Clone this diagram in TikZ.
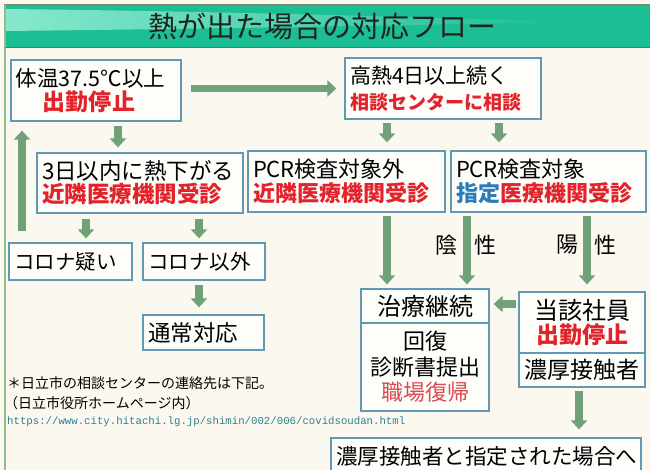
\documentclass[tikz,border=0pt]{standalone}
\usepackage{fontspec}
\setmainfont{Noto Sans CJK JP}
\newfontfamily\urlfont{Liberation Mono}
\usetikzlibrary{arrows.meta}
\definecolor{bg}{HTML}{FAF8EF}
\definecolor{boxfill}{HTML}{FDFDF9}
\definecolor{boxline}{HTML}{6398B2}
\definecolor{arrowgreen}{HTML}{71A178}
\definecolor{myred}{HTML}{E2232B}
\definecolor{myredlight}{HTML}{DA4A52}
\definecolor{myblue}{HTML}{2B7BB9}
\definecolor{urlcol}{HTML}{2F7F93}
\definecolor{titlebar}{HTML}{1CBE96}
\definecolor{titlelight}{HTML}{86E8CC}
\definecolor{titletop}{HTML}{7E8C6E}
\definecolor{titletext}{HTML}{1C2620}
\definecolor{frameline}{HTML}{8CBF8C}
\newcommand\fsz[2]{\fontsize{#1}{#2}\selectfont}
\tikzset{
  box/.style={draw=boxline, line width=1.3pt, fill=boxfill, inner xsep=5pt, inner ysep=0pt, anchor=center},
  blk/.style={draw=arrowgreen, line width=7.5pt, -{Triangle[width=16pt,length=9pt]}},
  lbl/.style={font=\fsz{22}{24}, text=black, inner sep=0pt},
  note/.style={anchor=west, inner sep=0pt, font=\fsz{14}{16}}
}
\begin{document}
\begin{tikzpicture}[x=1pt,y=-1pt]
\useasboundingbox (0,0) rectangle (650,470);
\clip (0,0) rectangle (650,470);
% background
\fill[bg] (0,0) rectangle (650,470);
% title bar
\fill[titlebar] (5,5) rectangle (650,47);
\shade[left color=titlelight, right color=titlebar]
  (5,9) .. controls (200,11) and (420,17) .. (572,22)
  .. controls (420,25) and (200,29) .. (5,31) -- cycle;
\draw[titletop, line width=1.2pt] (4,5) -- (650,5);
\draw[frameline, line width=1.4pt] (5,5) -- (5,470);
\draw[titlebar!80!black, line width=0.6pt] (5,47) -- (650,47);
\node[font=\fsz{29}{30}, text=titletext, inner sep=0pt] (title) at (322,26) {熱が出た場合の対応フロー};

% boxes
\node[box, minimum width=170pt, minimum height=61pt, text width=160pt, align=left, font=\fsz{21.5}{24}] (A) at (96,90.5)
  {体温37.5℃以上\\\hspace*{27pt}{\fsz{23}{24}\color{myred}\bfseries 出勤停止}};
\node[box, minimum width=196pt, minimum height=61pt, text width=186pt, align=left, font=\fsz{21}{26}] (B) at (443,88.5)
  {高熱4日以上続く\\{\fsz{19}{26}\color{myred}\bfseries 相談センターに相談}};
\node[box, minimum width=206pt, minimum height=60pt, text width=196pt, align=left, font=\fsz{22.5}{23}] (C) at (140,183)
  {3日以内に熱下がる\\{\color{myred}\bfseries 近隣医療機関受診}};
\node[box, minimum width=197pt, minimum height=61pt, text width=187pt, align=left, font=\fsz{22}{24}] (D) at (346.5,181.5)
  {PCR検査対象外\\{\color{myred}\bfseries 近隣医療機関受診}};
\node[box, minimum width=195pt, minimum height=61pt, text width=185pt, align=left, font=\fsz{22}{24}] (E) at (548.5,181.5)
  {PCR検査対象\\{\bfseries\color{myblue}指定\color{myred}医療機関受診}};
\node[box, minimum width=123pt, minimum height=37pt, text width=113pt, align=left, font=\fsz{20.5}{22}] (F) at (70.5,261.5)
  {コロナ疑い};
\node[box, minimum width=122pt, minimum height=37pt, text width=112pt, align=left, font=\fsz{20.5}{22}] (G) at (204,261.5)
  {コロナ以外};
\node[box, minimum width=121pt, minimum height=35pt, text width=111pt, align=left, font=\fsz{22.5}{24}] (H) at (203.5,332.5)
  {通常対応};
\node[box, minimum width=128pt, minimum height=34pt, text width=118pt, align=center, font=\fsz{24}{25}] (I) at (425,306)
  {治療継続};
\node[box, minimum width=128pt, minimum height=88pt, text width=118pt, align=center, font=\fsz{22}{25.5}] (J) at (425,367)
  {回復\\診断書提出\\{\color{myredlight}職場復帰}};
\node[box, minimum width=126pt, minimum height=61pt, text width=116pt, align=center, font=\fsz{23}{23.5}] (K) at (582,322.5)
  {{\fsz{24}{23.5}当該社員}\\{\color{myred}\bfseries 出勤停止}};
\node[box, minimum width=126pt, minimum height=34pt, text width=116pt, align=center, font=\fsz{23}{24}] (L) at (582,370)
  {濃厚接触者};
\node[box, minimum width=310pt, minimum height=36pt, text width=300pt, align=center, font=\fsz{21.5}{23}] (M) at (486,456)
  {濃厚接触者と指定された場合へ};

% note text
\node[note] (note1) at (7,383) {＊日立市の相談センターの連絡先は下記。};
\node[note] (note2) at (4,403) {（日立市役所ホームページ内）};
\node[note, font=\urlfont\fsz{10.7}{12}, text=urlcol] (url) at (7,422) {https://www.city.hitachi.lg.jp/shimin/002/006/covidsoudan.html};

% arrow x positions
\coordinate (xAC) at (118,0);
\coordinate (xBD) at (387,0);
\coordinate (xBE) at (499,0);
\coordinate (xUp) at (22,0);
\coordinate (xCF) at (86,0);
\coordinate (xCG) at (199,0);
\coordinate (xEI) at (467,0);
\coordinate (xEK) at (587,0);
\coordinate (xLM) at (579,0);
\coordinate (yKI) at (0,304);

% connectors
\draw[blk, shorten <=9pt, shorten >=8pt] (A.east |- B.west) -- (B.west);
\draw[blk, shorten <=4pt, shorten >=5pt] (A.south -| xAC) -- (C.north -| xAC);
\draw[blk, shorten <=3pt, shorten >=8pt] (B.south -| xBD) -- (D.north -| xBD);
\draw[blk, shorten <=3pt, shorten >=8pt] (B.south -| xBE) -- (E.north -| xBE);
\draw[blk, shorten <=11pt, shorten >=9pt] (F.north -| xUp) -- (A.south -| xUp);
\draw[blk, shorten <=5pt, shorten >=4pt] (C.south -| xCF) -- (F.north -| xCF);
\draw[blk, shorten <=5pt, shorten >=4pt] (C.south -| xCG) -- (G.north -| xCG);
\draw[blk, shorten <=4pt, shorten >=7pt] (G.south -| xCG) -- (H.north -| xCG);
\draw[blk, shorten <=3pt, shorten >=4pt] (D.south -| xBD) -- (I.north -| xBD);
\draw[blk, shorten <=3pt, shorten >=4pt] (E.south -| xEI) -- (I.north -| xEI)
  node[lbl, pos=0.43, xshift=-21pt] (neg1) {陰}
  node[lbl, pos=0.43, xshift=18pt] (neg2) {性};
\draw[blk, shorten <=3pt, shorten >=7pt] (E.south -| xEK) -- (K.north -| xEK)
  node[lbl, pos=0.41, xshift=-20pt] (pos1) {陽}
  node[lbl, pos=0.41, xshift=18pt] (pos2) {性};
\draw[blk, shorten <=2pt, shorten >=4pt] (K.west |- yKI) -- (I.east |- yKI);
\draw[blk, shorten <=3pt, shorten >=8pt] (L.south -| xLM) -- (M.north -| xLM);
\end{tikzpicture}
\end{document}
